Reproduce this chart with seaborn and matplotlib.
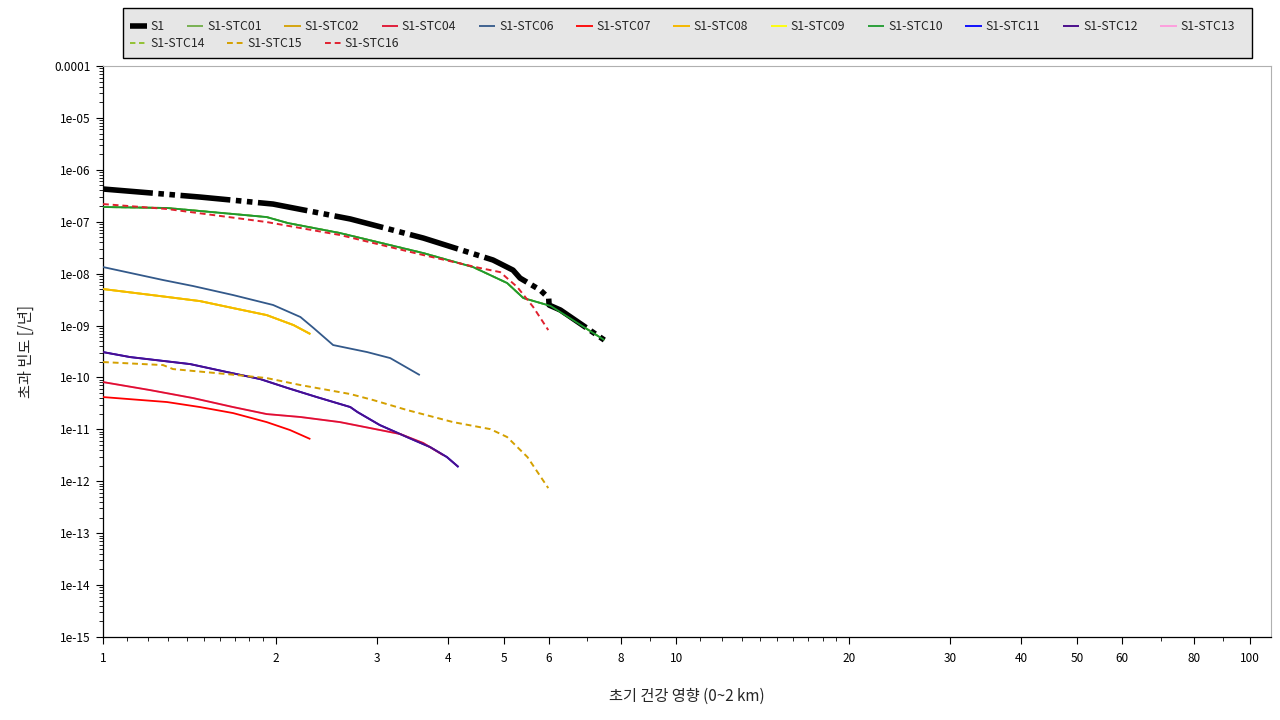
import numpy as np
import seaborn as sns
import matplotlib.pyplot as plt
from matplotlib.patches import Rectangle
from matplotlib.ticker import FixedLocator, FixedFormatter, LogLocator, NullFormatter

# === 데이터 ===
s1_x = [1.0, 1.476, 1.98, 2.70, 3.62, 4.79, 5.19, 5.34, 5.79, 5.99, 6.0, 6.28, 7.49]
s1_y = [4.27e-7, 2.99e-7, 2.19e-7, 1.13e-7, 4.85e-8, 1.83e-8, 1.17e-8, 8.2e-9,
        4.83e-9, 3.39e-9, 2.48e-9, 1.99e-9, 5.26e-10]

green_x = [1.0, 1.293, 1.93, 2.10, 2.59, 3.62, 4.42, 5.07, 5.41, 6.04, 7.49]
green_y = [1.92e-7, 1.84e-7, 1.23e-7, 9.45e-8, 6.06e-8, 2.49e-8, 1.34e-8, 6.59e-9,
           3.39e-9, 2.38e-9, 5.26e-10]

red_dash_x = [1.0, 1.293, 1.93, 2.59, 3.62, 4.55, 4.93, 5.28, 5.63, 5.98]
red_dash_y = [2.19e-7, 1.76e-7, 9.86e-8, 5.55e-8, 2.28e-8, 1.28e-8, 1.07e-8, 5.52e-9,
              2.27e-9, 8.18e-10]

blue_x = [1.0, 1.273, 1.436, 1.686, 1.98, 2.21, 2.33, 2.52, 2.89, 3.17, 3.57]
blue_y = [1.34e-8, 7.53e-9, 5.77e-9, 3.87e-9, 2.49e-9, 1.46e-9, 8.95e-10, 4.21e-10,
          3.08e-10, 2.36e-10, 1.11e-10]

orange_x = [1.0, 1.257, 1.476, 1.686, 1.93, 2.15, 2.30]
orange_y = [5.05e-9, 3.70e-9, 2.96e-9, 2.17e-9, 1.59e-9, 1.02e-9, 6.86e-10]

purple_x = [1.0, 1.115, 1.419, 1.646, 1.88, 2.10, 2.36, 2.70, 2.78, 3.04, 3.39, 3.72, 3.98, 4.17]
purple_y = [3.08e-10, 2.47e-10, 1.81e-10, 1.27e-10, 9.31e-11, 6.25e-11, 4.19e-11, 2.69e-11,
            2.15e-11, 1.21e-11, 7.11e-12, 4.56e-12, 2.93e-12, 1.88e-12]

gold_dash_x = [1.0, 1.273, 1.325, 1.646, 1.93, 2.21, 2.70, 2.96, 3.39, 4.08, 4.74, 5.07, 5.50, 5.98]
gold_dash_y = [1.98e-10, 1.73e-10, 1.45e-10, 1.16e-10, 9.73e-11, 7.14e-11, 4.79e-11, 3.67e-11,
               2.36e-11, 1.38e-11, 1.01e-11, 7.11e-12, 2.93e-12, 7.39e-13]

red_up_x = [1.0, 1.208, 1.436, 1.686, 1.93, 2.21, 2.59, 3.30, 3.62, 3.92]
red_up_y = [8.15e-11, 5.71e-11, 4.01e-11, 2.69e-11, 1.97e-11, 1.73e-11, 1.38e-11, 8.13e-12,
            5.45e-12, 3.20e-12]

red_low_x = [1.0, 1.293, 1.476, 1.686, 1.93, 2.12, 2.30]
red_low_y = [4.19e-11, 3.36e-11, 2.69e-11, 2.06e-11, 1.38e-11, 9.69e-12, 6.50e-12]

x_ticks = [1, 2, 3, 4, 5, 6, 8, 10, 20, 30, 40, 50, 60, 80, 100]
y_ticks = [1e-4, 1e-5, 1e-6, 1e-7, 1e-8, 1e-9, 1e-10, 1e-11, 1e-12, 1e-13, 1e-14, 1e-15]
y_tick_labels = ["0.0001", "1e-05", "1e-06", "1e-07", "1e-08", "1e-09", "1e-10",
                 "1e-11", "1e-12", "1e-13", "1e-14", "1e-15"]

dash = (0, (3, 2))
# 이름, x, y, 색, 선 굵기, 선 스타일, zorder (겹쳐서 가려진 선은 아래)
series = [
    ("S1", s1_x, s1_y, "black", 4.0, (0, (9, 1, 1, 1, 1, 1)), 2.5),
    ("S1-STC01", green_x, green_y, "#70ad47", 1.3, "-", 2.0),
    ("S1-STC02", orange_x, orange_y, "#d4a000", 1.3, "-", 2.0),
    ("S1-STC04", red_up_x, red_up_y, "#e0102f", 1.3, "-", 3.0),
    ("S1-STC06", blue_x, blue_y, "#33598a", 1.3, "-", 3.0),
    ("S1-STC07", red_low_x, red_low_y, "#ff0000", 1.3, "-", 3.0),
    ("S1-STC08", orange_x, orange_y, "#f5b800", 1.4, "-", 3.0),
    ("S1-STC09", orange_x, orange_y, "#ffff00", 1.3, "-", 2.0),
    ("S1-STC10", green_x, green_y, "#1e9a2e", 1.3, "-", 3.0),
    ("S1-STC11", purple_x, purple_y, "#0000ff", 1.3, "-", 2.0),
    ("S1-STC12", purple_x, purple_y, "#4b0f8c", 1.4, "-", 3.0),
    ("S1-STC13", red_up_x, red_up_y, "#ff99dd", 1.3, "-", 2.0),
    ("S1-STC14", green_x, green_y, "#8cbf26", 1.3, dash, 2.0),
    ("S1-STC15", gold_dash_x, gold_dash_y, "#d4a000", 1.4, dash, 3.0),
    ("S1-STC16", red_dash_x, red_dash_y, "#e0202e", 1.4, dash, 3.2),
]

sns.set_style("ticks")
plt.rcParams['font.family'] = ['Noto Sans CJK KR', 'DejaVu Sans']

fig = plt.figure(figsize=(12.8, 7.2), dpi=100)
ax = fig.add_axes([103 / 1280, 1 - 637 / 720, (1271 - 103) / 1280, (637 - 66) / 720])

for name, xs, ys, color, lw, ls, z in series:
    sns.lineplot(x=xs, y=ys, ax=ax, estimator=None, sort=False, color=color,
                 linewidth=lw, linestyle=ls, label=name, solid_capstyle="butt",
                 dash_capstyle="butt", zorder=z)

ax.set_xscale("log")
ax.set_yscale("log")
ax.set_xlim(1, 109)
ax.set_ylim(1e-15, 1e-4)

ax.xaxis.set_major_locator(FixedLocator(x_ticks))
ax.xaxis.set_major_formatter(FixedFormatter([str(t) for t in x_ticks]))
ax.xaxis.set_minor_locator(LogLocator(base=10, subs=[1.1, 1.2, 1.3, 1.4, 1.5, 1.6, 1.7, 1.8, 1.9,
                                                     7, 9], numticks=20))
ax.xaxis.set_minor_formatter(NullFormatter())
ax.yaxis.set_major_locator(FixedLocator(y_ticks))
ax.yaxis.set_major_formatter(FixedFormatter(y_tick_labels))
ax.yaxis.set_minor_locator(LogLocator(base=10, subs=np.arange(2, 10), numticks=30))
ax.yaxis.set_minor_formatter(NullFormatter())

ax.tick_params(axis="both", which="major", labelsize=8.5, length=5, width=0.8,
               colors="black", pad=4)
ax.tick_params(axis="both", which="minor", length=3, width=0.6, colors="black")
ax.tick_params(axis="x", which="major", pad=6)

for side in ["left", "bottom"]:
    ax.spines[side].set_color("black")
    ax.spines[side].set_linewidth(0.9)
for side in ["top", "right"]:
    ax.spines[side].set_color("#b0b0b0")
    ax.spines[side].set_linewidth(0.8)

ax.set_xlabel("초기 건강 영향 (0~2 km)", fontsize=11, labelpad=16)
ax.set_ylabel("초과 빈도 [/년]", fontsize=11, labelpad=14)

# 범례 (회색 상자 + 두 줄)
fig.patches.append(Rectangle((123 / 1280, 1 - 58 / 720), (1252 - 123) / 1280, 50 / 720,
                             transform=fig.transFigure, facecolor="#e6e6e6",
                             edgecolor="black", linewidth=1.0, zorder=0))
handles, labels = ax.get_legend_handles_labels()
if ax.get_legend():
    ax.get_legend().remove()
leg_kw = dict(loc="upper left", frameon=False, fontsize=8.8, handlelength=1.35,
              handletextpad=0.3, columnspacing=1.85, borderaxespad=0, borderpad=0)
fig.legend(handles[:12], labels[:12], ncol=12, bbox_to_anchor=(130 / 1280, 1 - 20 / 720), **leg_kw)
fig.legend(handles[12:], labels[12:], ncol=3, bbox_to_anchor=(130 / 1280, 1 - 37 / 720), **leg_kw)

fig.savefig("out.png", dpi=100, facecolor="white")
plt.close(fig)
